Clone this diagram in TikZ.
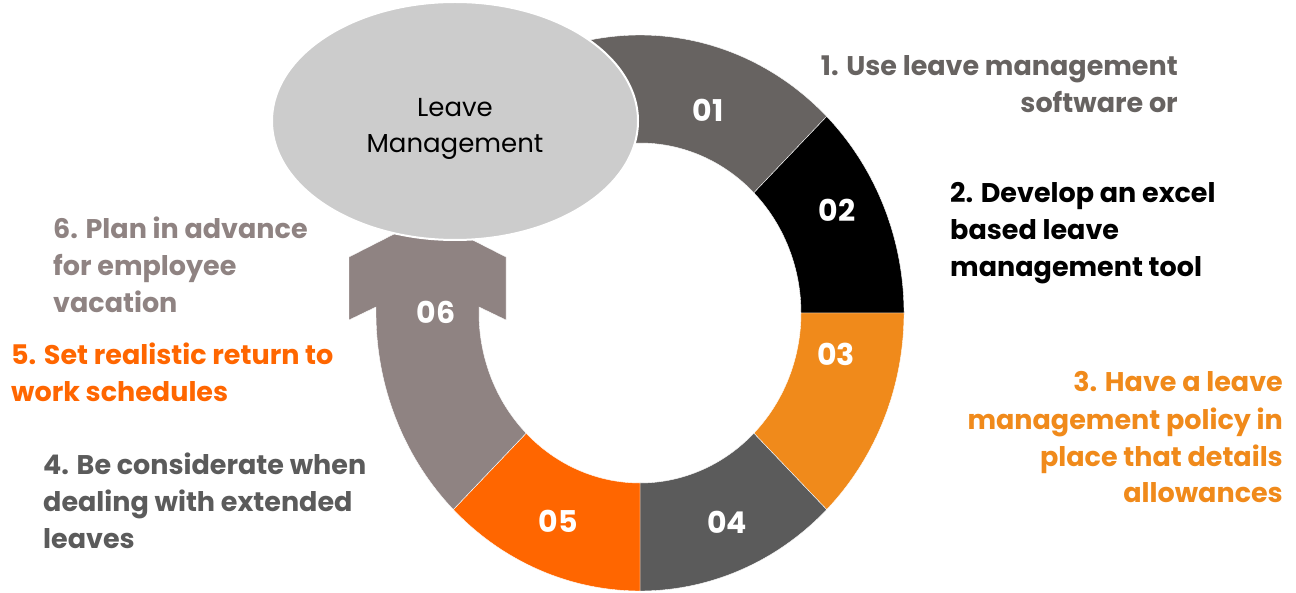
\documentclass[tikz,border=0pt]{standalone}
\usepackage{fontspec}
\setmainfont{Poppins}
\usepackage{tikz}
\usetikzlibrary{shapes.geometric}
\definecolor{lvGrey}{HTML}{676361}
\definecolor{lvAmber}{HTML}{F08A1B}
\definecolor{lvSlate}{HTML}{5B5B5B}
\definecolor{lvOrange}{HTML}{FF6600}
\definecolor{lvTaupe}{HTML}{8F8382}
\definecolor{lvHub}{HTML}{CCCCCC}

% one band of the ring: start angle, end angle, colour
\newcommand\ringseg[3]{%
  \fill[#3, draw=white, line width=0.4pt] (#1:264 and 278)
    arc[start angle=#1, end angle=#2, x radius=264, y radius=278]
    -- (#2:161 and 170)
    arc[start angle=#2, end angle=#1, x radius=161, y radius=170] -- cycle;}

\tikzset{
  numlbl/.style={text=white, font=\bfseries\fontsize{30}{30}\selectfont, inner sep=0pt},
  tipnote/.style={font=\bfseries\fontsize{27}{37}\selectfont, inner sep=0pt},
}

\begin{document}
\begin{tikzpicture}[x=1pt, y=1pt]
\useasboundingbox (0,0) rectangle (1296,592);
\begin{scope}[shift={(640,279)}]
  \ringseg{120}{45}{lvGrey}
  \ringseg{45}{0}{black}
  \ringseg{0}{-45}{lvAmber}
  \ringseg{-45}{-90}{lvSlate}
  \ringseg{-90}{-135}{lvOrange}
  % last band bends up into an arrow head
  \fill[lvTaupe, draw=white, line width=0.4pt] (225:264 and 278)
    arc[start angle=225, end angle=180, x radius=264, y radius=278]
    -- (-264,6) -- (-291,-7) -- (-291,56) -- (-212.5,96) -- (-134,56) -- (-134,-7)
    -- (-161,6) -- (-161,0)
    arc[start angle=180, end angle=225, x radius=161, y radius=170] -- cycle;
\end{scope}
\node[ellipse, fill=lvHub, draw=white, line width=2pt, minimum width=366, minimum height=238] (hub) at (455,471) {};
\node[align=center, font=\fontsize{26}{36}\selectfont] (hubtext) at ([yshift=-8]hub.center) {Leave\\Management};

\foreach \lbl/\x/\y in {01/708/482, 02/837/382, 03/836/238, 04/727/70, 05/558/71, 06/436/280}
  \node[numlbl] (n\lbl) at (\x,\y) {\lbl};

% notes, anchored on the baseline of their last line
\node[tipnote, text=lvGrey, anchor=base east, align=right] (t1) at (1178,479)
  {1. Use leave management\\software or};
\node[tipnote, text=black, anchor=base west, align=left] (t2) at (950,315)
  {2. Develop an excel\\based leave\\management tool};
\node[tipnote, text=lvAmber, anchor=base east, align=right] (t3) at (1283,89)
  {3. Have a leave\\management policy in\\place that details\\allowances};
\node[tipnote, text=lvSlate, anchor=base west, align=left] (t4) at (43,44)
  {4. Be considerate when\\dealing with extended\\leaves};
\node[tipnote, text=lvOrange, anchor=base west, align=left] (t5) at (11,190)
  {5. Set realistic return to\\work schedules};
\node[tipnote, text=lvTaupe, anchor=base west, align=left] (t6) at (53,279)
  {6. Plan in advance\\for employee\\vacation};
\end{tikzpicture}
\end{document}
